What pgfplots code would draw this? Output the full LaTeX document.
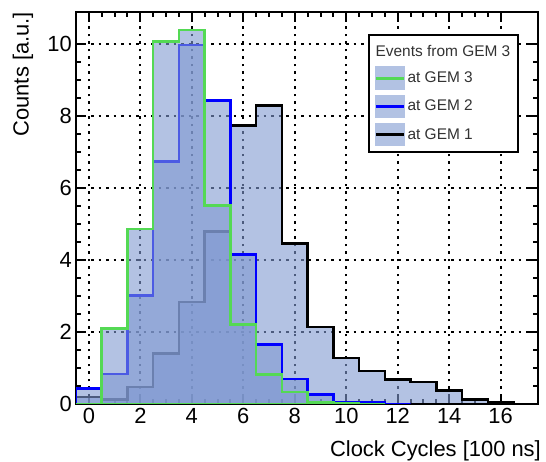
\documentclass[border=0pt]{standalone}
\usepackage{fontspec}
\setmainfont{Liberation Sans}
\usepackage{pgfplots}
\pgfplotsset{compat=1.18}
\definecolor{gemgreen}{rgb}{0.33,0.85,0.33}
\definecolor{gemblue}{rgb}{0,0,1}
\definecolor{fillc}{rgb}{0.5,0.6,0.82}
\begin{document}
\begin{tikzpicture}
\useasboundingbox (0,0) rectangle (546bp,462bp);
\begin{axis}[
  at={(76bp,58bp)}, anchor=south west,
  scale only axis, width=462bp, height=392bp,
  xmin=-0.5, xmax=17.45, ymin=0, ymax=10.9,
  xtick={0,2,...,16}, ytick={0,2,...,10},
  minor x tick num=3, minor y tick num=3,
  tick align=inside, xtick pos=both, ytick pos=both,
  major tick length=10bp, minor tick length=5bp,
  every tick/.style={black, line width=2bp},
  axis line style={line width=2.5bp},
  grid=major,
  major grid style={black, line width=2bp, dash pattern=on 2.5bp off 5bp},
  /pgf/number format/assume math mode=true,
  tick label style={font=\fontsize{22}{24}\selectfont},
  xticklabel style={inner sep=0pt, anchor=north, yshift=-4bp},
  yticklabel style={inner sep=0pt, anchor=east, xshift=-4bp},
  xlabel={Clock Cycles [100 ns]},
  ylabel={Counts [a.u.]},
  every axis x label/.style={at={(rel axis cs:1.0065,-0.1352)}, anchor=base east, inner sep=0pt, font=\fontsize{22}{24}\selectfont},
  every axis y label/.style={at={(rel axis cs:-0.1028,1)}, anchor=base east, rotate=90, inner sep=0pt, font=\fontsize{22}{24}\selectfont},
  legend style={at={(0.959,0.944)}, anchor=north east, draw=black, line width=2.5bp,
    font=\fontsize{15.5}{18}\selectfont, row sep=4.7bp, inner sep=5.5bp,
    text=black!80},
  legend cell align=left,
]
% GEM 1 (black)
\addplot[const plot, draw=black, line width=2.5bp, fill=fillc, fill opacity=0.6, draw opacity=1, forget plot]
 coordinates {(-0.5,0.2) (0.5,0.12) (1.5,0.47) (2.5,1.4) (3.5,2.83) (4.5,4.8) (5.5,7.74) (6.5,8.3) (7.5,4.46) (8.5,2.14) (9.5,1.28) (10.5,0.92) (11.5,0.68) (12.5,0.61) (13.5,0.37) (14.5,0.13) (15.5,0.04) (16.5,0.04)} \closedcycle;
% GEM 2 (blue)
\addplot[const plot, draw=gemblue, line width=2.5bp, fill=fillc, fill opacity=0.6, draw opacity=1, forget plot]
 coordinates {(-0.5,0.43) (0.5,0.84) (1.5,3.02) (2.5,6.74) (3.5,9.98) (4.5,8.44) (5.5,4.16) (6.5,1.66) (7.5,0.69) (8.5,0.27) (9.5,0.05) (10.5,0.04) (11.5,0) (12.5,0)} \closedcycle;
% GEM 3 (green)
\addplot[const plot, draw=gemgreen, line width=2.5bp, fill=fillc, fill opacity=0.6, draw opacity=1, forget plot]
 coordinates {(-0.5,0) (0.5,2.1) (1.5,4.87) (2.5,10.08) (3.5,10.4) (4.5,5.52) (5.5,2.21) (6.5,0.82) (7.5,0.33) (8.5,0.05) (9.5,0.03) (10.5,0) (11.5,0)} \closedcycle;
\addlegendimage{legend image code/.code={\path[draw=none,fill=none] (0bp,-10.5bp) rectangle (28bp,10.5bp);}}
\addlegendentry{\hspace*{-32bp}Events from GEM 3}
\addlegendimage{legend image code/.code={\fill[fillc!60!white] (0bp,-10.5bp) rectangle (28bp,10.5bp); \draw[line width=3bp,gemgreen] (0bp,0bp) -- (28bp,0bp);}}
\addlegendentry{at GEM 3}
\addlegendimage{legend image code/.code={\fill[fillc!60!white] (0bp,-10.5bp) rectangle (28bp,10.5bp); \draw[line width=3bp,gemblue] (0bp,0bp) -- (28bp,0bp);}}
\addlegendentry{at GEM 2}
\addlegendimage{legend image code/.code={\fill[fillc!60!white] (0bp,-10.5bp) rectangle (28bp,10.5bp); \draw[line width=3bp,black] (0bp,0bp) -- (28bp,0bp);}}
\addlegendentry{at GEM 1}
\end{axis}
\end{tikzpicture}
\end{document}
